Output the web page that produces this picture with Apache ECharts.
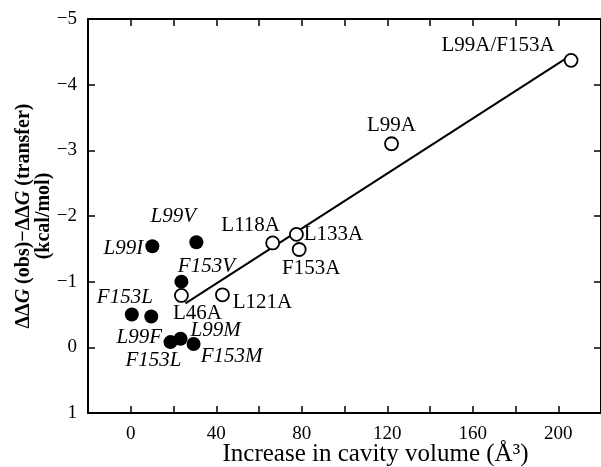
<!DOCTYPE html>
<html><head><meta charset="utf-8">
<script src="https://cdn.jsdelivr.net/npm/echarts@6/dist/echarts.min.js"></script>
<style>html,body{margin:0;padding:0;background:#fff}#c{width:601px;height:467px}</style>
</head><body><div id="c"></div>
<script>
// ---- data ----
var openLabels = ['L99A/F153A','L99A','L118A','L133A','F153A','L46A','L121A'];
var openX = [206, 122, 66.4, 77.5, 78.8, 23.7, 42.9];
var openY = [-4.37, -3.10, -1.59, -1.72, -1.49, -0.79, -0.80];
var filledLabels = ['L99I','L99V','F153V','F153L','L99F','F153L','L99M','F153M'];
var filledX = [10.1, 30.7, 23.7, 0.5, 9.6, 18.6, 23.3, 29.4];
var filledY = [-1.54, -1.60, -1.00, -0.50, -0.47, -0.08, -0.13, -0.05];
var fitX = [25.6, 203.7];
var fitY = [-0.67, -4.40];
var xTicks = [0, 40, 80, 120, 160, 200];
var yTicks = [-5, -4, -3, -2, -1, 0, 1];

// ---- label placement (style only) ----
var openOffsets = [[-73,-15],[0,-18],[-22,-17],[37,0],[12,19],[16,18],[40,8]];
var filledOffsets = [[-29,2],[-23,-26],[25,-15],[-7,-17],[-12,21],[-17,18],[35,-8],[38,12]];

var FONT = '"Liberation Serif","DejaVu Serif",serif';
function mk(xs, ys, labels, offs) {
  return xs.map(function (x, i) {
    return { value: [x, ys[i]], name: labels[i],
      label: { offset: offs[i] } };
  });
}
var chart = echarts.init(document.getElementById('c'));
var axisLineStyle = { color: '#000', width: 2 };
chart.setOption({
  animation: false,
  backgroundColor: '#fff',
  grid: { left: 88, right: 0, top: 19, bottom: 54, containLabel: false, outerBoundsMode: 'none' },
  xAxis: [{
    type: 'value', min: -20, max: 220, interval: 20, position: 'bottom',
    axisLine: { onZero: false, lineStyle: axisLineStyle },
    axisTick: { inside: true, length: 7, lineStyle: { color: '#000', width: 1.5 } },
    splitLine: { show: false },
    axisLabel: { margin: 12, color: '#000', fontFamily: FONT, fontSize: 19,
      formatter: function (v) { return xTicks.indexOf(v) >= 0 ? String(v) : ''; } },
    name: 'Increase in cavity volume (Å³)', nameLocation: 'middle', nameGap: 29, nameMoveOverlap: false,
    nameTextStyle: { color: '#000', fontFamily: FONT, fontSize: 25, padding: [0, 0, 0, 62] }
  }, {
    type: 'value', min: -20, max: 220, interval: 20, position: 'top',
    axisLine: { onZero: false, lineStyle: axisLineStyle },
    axisTick: { inside: true, length: 7, lineStyle: { color: '#000', width: 1.5 } },
    axisLabel: { show: false }, splitLine: { show: false }
  }],
  yAxis: [{
    type: 'value', min: -5, max: 1, interval: 1, inverse: true, position: 'left',
    axisLine: { onZero: false, lineStyle: axisLineStyle },
    axisTick: { inside: true, length: 7, lineStyle: { color: '#000', width: 1.5 } },
    splitLine: { show: false },
    axisLabel: { margin: 11, color: '#000', fontFamily: FONT, fontSize: 19,
      formatter: function (v) { return yTicks.indexOf(v) >= 0 ? String(v).replace('-', '\u2212') : ''; } },
    name: '{b|ΔΔ}{bi|G}{b| (obs)\u2212ΔΔ}{bi|G}{b| (transfer)}\n{b|(kcal/mol)}',
    nameLocation: 'middle', nameRotate: 90, nameGap: 34, nameMoveOverlap: false,
    nameTextStyle: {
      color: '#000', fontFamily: FONT, fontSize: 20, fontWeight: 'bold', lineHeight: 20,
      rich: {
        b: { fontFamily: FONT, fontSize: 20, fontWeight: 'bold', color: '#000', lineHeight: 20 },
        bi: { fontFamily: FONT, fontSize: 20, fontWeight: 'bold', fontStyle: 'italic', color: '#000', lineHeight: 20 }
      }
    }
  }, {
    type: 'value', min: -5, max: 1, interval: 1, inverse: true, position: 'right',
    axisLine: { onZero: false, lineStyle: axisLineStyle },
    axisTick: { inside: true, length: 7, lineStyle: { color: '#000', width: 1.5 } },
    axisLabel: { show: false }, splitLine: { show: false }
  }],
  series: [{
    type: 'line', data: fitX.map(function (x, i) { return [x, fitY[i]]; }),
    symbol: 'none', lineStyle: { color: '#000', width: 2 }, z: 1
  }, {
    type: 'scatter', data: mk(openX, openY, openLabels, openOffsets),
    symbol: 'circle', symbolSize: 13,
    itemStyle: { color: '#fff', borderColor: '#000', borderWidth: 1.8, opacity: 1 },
    label: { show: true, position: 'inside', align: 'center', verticalAlign: 'middle',
      formatter: '{b}', color: '#000', fontFamily: FONT, fontSize: 21 },
    z: 3
  }, {
    type: 'scatter', data: mk(filledX, filledY, filledLabels, filledOffsets),
    symbol: 'circle', symbolSize: 14,
    itemStyle: { color: '#000', borderColor: '#000', borderWidth: 0, opacity: 1 },
    label: { show: true, position: 'inside', align: 'center', verticalAlign: 'middle',
      formatter: '{b}', color: '#000', fontFamily: FONT, fontSize: 21, fontStyle: 'italic' },
    z: 3
  }]
});
</script></body></html>
